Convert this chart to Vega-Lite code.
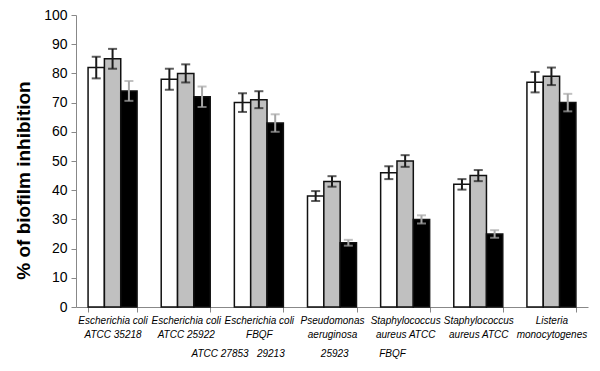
{
  "$schema": "https://vega.github.io/schema/vega-lite/v6.json",
  "width": 512,
  "height": 292,
  "autosize": {"type": "none"},
  "padding": {"left": 76, "top": 15, "right": 12, "bottom": 64},
  "background": "white",
  "config": {
    "view": {"stroke": null},
    "font": "Liberation Sans",
    "axis": {"labelOverlap": false, "labelSeparation": 0},
    "axisY": {"labelOverlap": false},
    "axisQuantitative": {"labelOverlap": false, "tickCount": 10}
  },
  "resolve": {"axis": {"y": "independent"}},
  "data": {
    "values": [
      {"cat": "Escherichia coli|ATCC 35218|1", "s": "A", "v": 82, "e": 3.7},
      {"cat": "Escherichia coli|ATCC 35218|1", "s": "B", "v": 85, "e": 3.4},
      {"cat": "Escherichia coli|ATCC 35218|1", "s": "C", "v": 74, "e": 3.4},
      {"cat": "Escherichia coli|ATCC 25922|2", "s": "A", "v": 78, "e": 3.6},
      {"cat": "Escherichia coli|ATCC 25922|2", "s": "B", "v": 80, "e": 3.1},
      {"cat": "Escherichia coli|ATCC 25922|2", "s": "C", "v": 72, "e": 3.5},
      {"cat": "Escherichia coli|FBQF|3", "s": "A", "v": 70, "e": 3.2},
      {"cat": "Escherichia coli|FBQF|3", "s": "B", "v": 71, "e": 2.9},
      {"cat": "Escherichia coli|FBQF|3", "s": "C", "v": 63, "e": 3.0},
      {"cat": "Pseudomonas|aeruginosa|4", "s": "A", "v": 38, "e": 1.7},
      {"cat": "Pseudomonas|aeruginosa|4", "s": "B", "v": 43, "e": 1.8},
      {"cat": "Pseudomonas|aeruginosa|4", "s": "C", "v": 22, "e": 1.0},
      {"cat": "Staphylococcus|aureus ATCC|5", "s": "A", "v": 46, "e": 2.2},
      {"cat": "Staphylococcus|aureus ATCC|5", "s": "B", "v": 50, "e": 2.0},
      {"cat": "Staphylococcus|aureus ATCC|5", "s": "C", "v": 30, "e": 1.4},
      {"cat": "Staphylococcus|aureus ATCC|6", "s": "A", "v": 42, "e": 1.8},
      {"cat": "Staphylococcus|aureus ATCC|6", "s": "B", "v": 45, "e": 1.9},
      {"cat": "Staphylococcus|aureus ATCC|6", "s": "C", "v": 25, "e": 1.3},
      {"cat": "Listeria|monocytogenes|7", "s": "A", "v": 77, "e": 3.5},
      {"cat": "Listeria|monocytogenes|7", "s": "B", "v": 79, "e": 3.0},
      {"cat": "Listeria|monocytogenes|7", "s": "C", "v": 70, "e": 3.0}
    ]
  },
  "transform": [
    {"calculate": "datum.v - datum.e", "as": "lo"},
    {"calculate": "datum.v + datum.e", "as": "hi"}
  ],
  "encoding": {
    "x": {
      "field": "cat",
      "type": "nominal",
      "sort": null,
      "scale": {"paddingInner": 0.33, "paddingOuter": 0.165},
      "axis": {
        "title": "ATCC 27853\u00a0\u00a0\u00a029213\u00a0\u00a0\u00a0\u00a0\u00a0\u00a0\u00a0\u00a0\u00a0\u00a0\u00a0\u00a0\u00a025923\u00a0\u00a0\u00a0\u00a0\u00a0\u00a0\u00a0\u00a0\u00a0\u00a0\u00a0FBQF",
        "titleFont": "Liberation Sans",
        "titleFontStyle": "italic",
        "titleFontWeight": "normal",
        "titleFontSize": 10,
        "titleColor": "#000",
        "titleAnchor": "start",
        "titleAlign": "left",
        "titleX": 115,
        "titleY": 46,
        "titleBaseline": "middle",
        "titleLimit": 0,
        "labelAngle": 0,
        "labelExpr": "slice(split(datum.label, '|'), 0, 2)",
        "labelFont": "Liberation Sans",
        "labelFontStyle": "italic",
        "labelFontSize": 10,
        "labelColor": "#000",
        "labelLineHeight": 14,
        "labelPadding": 3,
        "labelBaseline": "top",
        "labelOverlap": false,
        "tickBand": "extent",
        "tickSize": 5,
        "tickColor": "#888",
        "domainColor": "#888",
        "labelLimit": 0
      }
    },
    "xOffset": {"field": "s", "type": "nominal", "scale": {"paddingInner": 0, "paddingOuter": 0}}
  },
  "layer": [
    {
      "mark": {"type": "bar", "stroke": "#111", "strokeWidth": 1.5},
      "encoding": {
        "y": {
          "field": "v",
          "type": "quantitative",
          "scale": {"domain": [0, 100], "nice": false},
          "axis": {
            "title": "% of biofilm inhibition",
            "tickCount": 10,
            "labelOverlap": false,
            "labelSeparation": 0,
            "labelFont": "Liberation Sans",
            "labelFontSize": 14,
            "labelColor": "#000",
            "labelPadding": 4,
            "tickSize": 5,
            "tickColor": "#888",
            "domainColor": "#888",
            "grid": false,
            "titleFont": "Liberation Sans",
            "titleFontSize": 19,
            "titleFontWeight": "bold",
            "titleColor": "#000",
            "titlePadding": 10,
            "titleY": 165
          }
        },
        "fill": {
          "field": "s",
          "type": "nominal",
          "scale": {"domain": ["A", "B", "C"], "range": ["#ffffff", "#c0c0c0", "#000000"]},
          "legend": null
        }
      }
    },
    {
      "mark": {"type": "rule", "strokeWidth": 2},
      "encoding": {
        "y": {"field": "lo", "type": "quantitative", "scale": {"domain": [0, 100], "nice": false}, "axis": null},
        "y2": {"field": "hi"},
        "stroke": {
          "field": "s",
          "type": "nominal",
          "scale": {"domain": ["A", "B", "C"], "range": ["#1a1a1a", "#1a1a1a", "#a6a6a6"]},
          "legend": null
        }
      }
    },
    {
      "mark": {"type": "tick", "thickness": 2, "size": 9},
      "encoding": {
        "y": {"field": "lo", "type": "quantitative", "scale": {"domain": [0, 100], "nice": false}, "axis": null},
        "color": {
          "field": "s",
          "type": "nominal",
          "scale": {"domain": ["A", "B", "C"], "range": ["#1a1a1a", "#1a1a1a", "#a6a6a6"]},
          "legend": null
        }
      }
    },
    {
      "mark": {"type": "tick", "thickness": 2, "size": 9},
      "encoding": {
        "y": {"field": "hi", "type": "quantitative", "scale": {"domain": [0, 100], "nice": false}, "axis": null},
        "color": {
          "field": "s",
          "type": "nominal",
          "scale": {"domain": ["A", "B", "C"], "range": ["#1a1a1a", "#1a1a1a", "#a6a6a6"]},
          "legend": null
        }
      }
    }
  ]
}
